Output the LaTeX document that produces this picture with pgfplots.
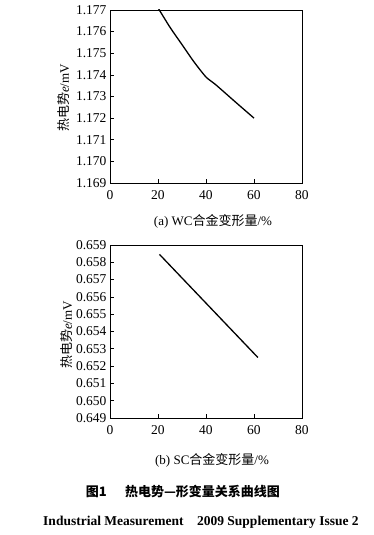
\documentclass[border=0pt]{standalone}
\usepackage{pgfplots}
\pgfplotsset{compat=1.18}
\usepackage{fontspec}
\setmainfont{Liberation Serif}
\newfontfamily\cjk{Noto Sans CJK SC}
\begin{document}
\begin{tikzpicture}
\path (0pt,0pt) rectangle (374pt,535pt);
\pgfplotsset{
  myax/.style={
    scale only axis, width=192pt, height=173pt, anchor=south west,
    xmin=0, xmax=80, xtick={0,20,40,60,80},
    tick align=inside, major tick length=4pt,
    xtick pos=bottom, ytick pos=left,
    axis line style={line width=0.8pt},
    tick style={line width=0.6pt, black},
    /pgf/number format/assume math mode=true,
    ticklabel style={font=\fontsize{13.5}{15}\selectfont},
    xticklabel style={yshift=-4pt},
    yticklabel style={/pgf/number format/fixed, /pgf/number format/fixed zerofill, /pgf/number format/precision=3},
    scaled y ticks=false,
    clip=true,
  }
}
\begin{axis}[myax, at={(110pt,352pt)}, ymin=1.169, ymax=1.177,
  ytick={1.169,1.170,1.171,1.172,1.173,1.174,1.175,1.176,1.177}]
\addplot[black, line width=1.3pt, smooth, tension=0.4] coordinates {
(20,1.1771) (25,1.1762) (30,1.1754) (35,1.1746) (40,1.1739) (44,1.17355) (52,1.17277) (60,1.1720)};
\end{axis}
\begin{axis}[myax, at={(110pt,117pt)}, ymin=0.649, ymax=0.659,
  ytick={0.649,0.650,0.651,0.652,0.653,0.654,0.655,0.656,0.657,0.658,0.659}]
\addplot[black, line width=1.3pt] coordinates {(20.6,0.65846) (61.6,0.65250)};
\end{axis}
\node[rotate=90, font=\fontsize{13}{15}\selectfont] at (64pt,437pt) {{\cjk 热电势}\textit{e}/mV};
\node[rotate=90, font=\fontsize{13}{15}\selectfont] at (67pt,200pt) {{\cjk 热电势}\textit{e}/mV};
\node[font=\fontsize{13}{15}\selectfont] at (213pt,314pt) {(a) WC{\cjk 合金变形量}/\%};
\node[font=\fontsize{13}{15}\selectfont] at (212pt,75pt) {(b) SC{\cjk 合金变形量}/\%};
\node[font=\fontsize{13}{15}\selectfont\bfseries] at (183pt,43pt) {{\cjk 图1\hspace{1.4em}热电势—形变量关系曲线图}};
\node[font=\fontsize{13.5}{15}\selectfont\bfseries] at (201pt,13pt) {Industrial Measurement\hspace{1em}2009 Supplementary Issue 2};
\end{tikzpicture}
\end{document}
